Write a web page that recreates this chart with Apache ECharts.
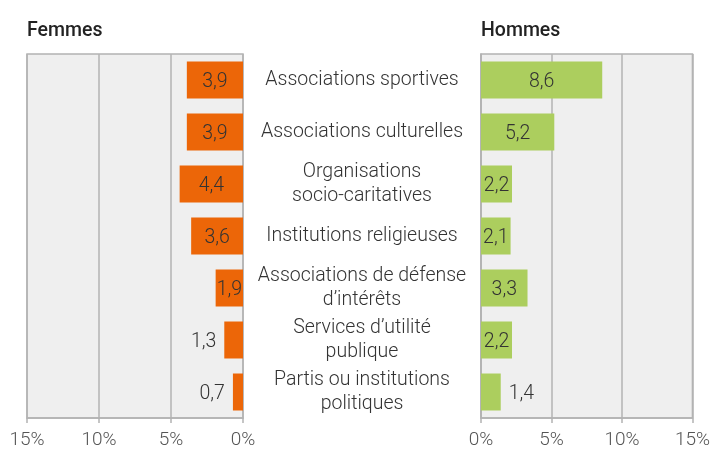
<!DOCTYPE html>
<html>
<head>
<meta charset="utf-8">
<script src="https://cdn.jsdelivr.net/npm/echarts@6/dist/echarts.min.js"></script>
<style>
  html, body { margin: 0; padding: 0; background: #fff; }
  #chart { width: 713px; height: 467px; }
</style>
</head>
<body>
<div id="chart"></div>
<script>
  var categories = [
    'Associations sportives',
    'Associations culturelles',
    'Organisations\nsocio-caritatives',
    'Institutions religieuses',
    'Associations de défense\nd\u2019intérêts',
    'Services d\u2019utilité\npublique',
    'Partis ou institutions\npolitiques'
  ];
  var femmes = [3.9, 3.9, 4.4, 3.6, 1.9, 1.3, 0.7];
  var hommes = [8.6, 5.2, 2.2, 2.1, 3.3, 2.2, 1.4];
  var ticks = [0, 5, 10, 15];

  var font = 'Roboto, "Noto Sans", sans-serif';
  var gridColor = '#b3b3b3';

  function fmt(v) {
    return v.toFixed(1).replace('.', ',');
  }

  // petites valeurs : étiquette hors de la barre
  function items(values, outside) {
    return values.map(function (v) {
      return {
        value: v,
        label: { position: v < 1.5 ? outside : 'inside' }
      };
    });
  }

  function xAxis(index, inverse) {
    return {
      gridIndex: index,
      type: 'value',
      inverse: inverse,
      min: ticks[0],
      max: ticks[ticks.length - 1],
      interval: 5,
      axisLine: { show: true, lineStyle: { color: gridColor, width: 1.5 } },
      axisTick: { show: true, length: 5, lineStyle: { color: gridColor, width: 1.5 } },
      splitLine: { show: true, lineStyle: { color: gridColor, width: 1.5 } },
      axisLabel: {
        formatter: '{value}%',
        color: '#555',
        fontSize: 19,
        fontWeight: 300,
        fontFamily: font,
        margin: 13
      }
    };
  }

  var valueLabel = {
    show: true,
    formatter: function (p) { return fmt(p.value); },
    color: '#333',
    fontSize: 19.5,
    fontWeight: 300,
    fontFamily: font,
    distance: 8,
    offset: [0, 2]
  };

  var chart = echarts.init(document.getElementById('chart'));
  chart.setOption({
    animation: false,
    title: [
      { text: 'Femmes', left: 22, top: 16,
        textStyle: { fontSize: 19.5, fontWeight: 500, color: '#222', fontFamily: font } },
      { text: 'Hommes', left: 476, top: 16,
        textStyle: { fontSize: 19.5, fontWeight: 500, color: '#222', fontFamily: font } }
    ],
    grid: [
      { left: 27, width: 216, top: 54, height: 364, show: true,
        backgroundColor: '#efefef', borderColor: gridColor, borderWidth: 1.5 },
      { left: 481, width: 216, top: 54, height: 364, show: true,
        backgroundColor: '#efefef', borderColor: gridColor, borderWidth: 1.5 }
    ],
    xAxis: [xAxis(0, true), xAxis(1, false)],
    yAxis: [
      {
        gridIndex: 0,
        type: 'category',
        data: categories,
        inverse: true,
        position: 'right',
        axisLine: { show: false },
        axisTick: { show: false },
        axisLabel: {
          align: 'center',
          margin: 119,
          color: '#333',
          fontSize: 19.5,
          fontWeight: 300,
          lineHeight: 24,
          padding: [4, 0, 0, 0],
          fontFamily: font
        }
      },
      {
        gridIndex: 1,
        type: 'category',
        data: categories,
        inverse: true,
        axisLine: { show: true, lineStyle: { color: gridColor, width: 1.5 } },
        axisTick: { show: false },
        axisLabel: { show: false }
      }
    ],
    series: [
      {
        type: 'bar',
        xAxisIndex: 0,
        yAxisIndex: 0,
        data: items(femmes, 'left'),
        barWidth: 37,
        itemStyle: { color: '#ec6608' },
        label: valueLabel
      },
      {
        type: 'bar',
        xAxisIndex: 1,
        yAxisIndex: 1,
        data: items(hommes, 'right'),
        barWidth: 37,
        itemStyle: { color: '#acce5e' },
        label: valueLabel
      }
    ]
  });
</script>
</body>
</html>
